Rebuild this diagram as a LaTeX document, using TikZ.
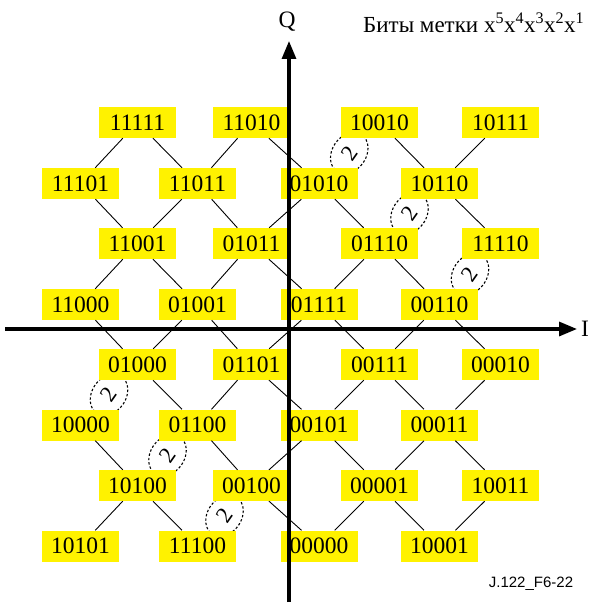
\documentclass[tikz,border=0pt]{standalone}
\usepackage{fontspec}
\setmainfont{Liberation Serif}
\newfontfamily\figsans{Liberation Sans}
\usetikzlibrary{arrows.meta,backgrounds,shapes.geometric}

\begin{document}
\begin{tikzpicture}[x=1pt,y=-1pt,
  code/.style={fill=yellow, minimum width=77pt, minimum height=31pt,
    inner sep=0pt, font=\fontsize{23.5}{23.5}\selectfont},
  link/.style={line width=0.9pt},
  axis/.style={line width=3.2pt, -{Triangle[length=18pt,width=14pt]}},
  twobit/.style={ellipse, draw, dash pattern=on 2.4pt off 2pt, line width=1.1pt,
    minimum width=44pt, minimum height=34pt, inner sep=0pt, rotate=55,
    font=\fontsize{23}{23}\selectfont},
  lbl/.style={font=\fontsize{23.5}{23.5}\selectfont, inner sep=0pt}]

\useasboundingbox (0,0) rectangle (594,610);

% label points of the constellation
\foreach \name/\x/\y in {
  11111/137.5/122.5, 11010/251.5/122.5, 10010/379.5/122.5, 10111/500.5/122.5,
  11101/80.5/183.5,  11011/197.5/183.5, 01010/319/183.5,   10110/439.5/183.5,
  11001/137.5/243.5, 01011/251.5/243.5, 01110/379.5/243.5, 11110/500.5/243.5,
  11000/80.5/304.5,  01001/197.5/304.5, 01111/319/304.5,   00110/439.5/304.5,
  01000/137.5/364.5, 01101/251.5/364.5, 00111/379.5/364.5, 00010/500.5/364.5,
  10000/80.5/425,    01100/197.5/425,   00101/319/425,     00011/439.5/425,
  10100/137.5/485.5, 00100/251.5/485.5, 00001/379.5/485.5, 10011/500.5/485.5,
  10101/80.5/546,    11100/197.5/546,   00000/319/546,     10001/439.5/546}
  \node[code] (n\name) at (\x,\y) {\name};

% neighbours that differ in one bit
\foreach \a/\b in {
  11111/11101, 11111/11011, 11010/11011, 11010/01010, 10010/10110, 10111/10110,
  11101/11001, 11011/11001, 11011/01011, 01010/01011, 01010/01110, 10110/11110,
  11001/11000, 11001/01001, 01011/01001, 01011/01111, 01110/01111, 01110/00110,
  11000/01000, 01001/01000, 01001/01101, 01111/01101, 01111/00111, 00110/00111,
  00110/00010,
  01000/01100, 01101/01100, 01101/00101, 00111/00101, 00111/00011, 00010/00011,
  10000/10100, 01100/00100, 00101/00100, 00101/00001, 00011/00001, 00011/10011,
  10100/10101, 10100/11100, 00100/00000, 00001/00000, 00001/10001, 10011/10001}
  \draw[link] (n\a) -- (n\b);

% neighbours that differ in two bits
\begin{scope}[on background layer]
  \node[twobit] (d1) at (349.25,153) {2};
  \node[twobit] (d2) at (409.5,213.5) {2};
  \node[twobit] (d3) at (470,274) {2};
  \node[twobit] (d4) at (109,394.75) {2};
  \node[twobit] (d5) at (167.5,455.25) {2};
  \node[twobit] (d6) at (224.5,515.75) {2};
\end{scope}

% axes
\coordinate (qbot) at (289,602);
\coordinate (qtop) at (289,41);
\coordinate (ileft) at (5,329);
\coordinate (iright) at (577,329);
\draw[axis] (qbot) -- (qtop);
\draw[axis] (ileft) -- (iright);

\node[lbl] (qlab) at (287,22) {Q};
\node[lbl] (ilab) at (585,329) {I};
\node[lbl, anchor=base west, font=\fontsize{23}{23}\selectfont] (title) at (363,33)
  {Биты метки x\textsuperscript{5}x\textsuperscript{4}x\textsuperscript{3}x\textsuperscript{2}x\textsuperscript{1}};
\node[inner sep=0pt, font=\figsans\fontsize{15}{15}\selectfont] (fig) at (531,584) {J.122\_F6-22};
\end{tikzpicture}
\end{document}
